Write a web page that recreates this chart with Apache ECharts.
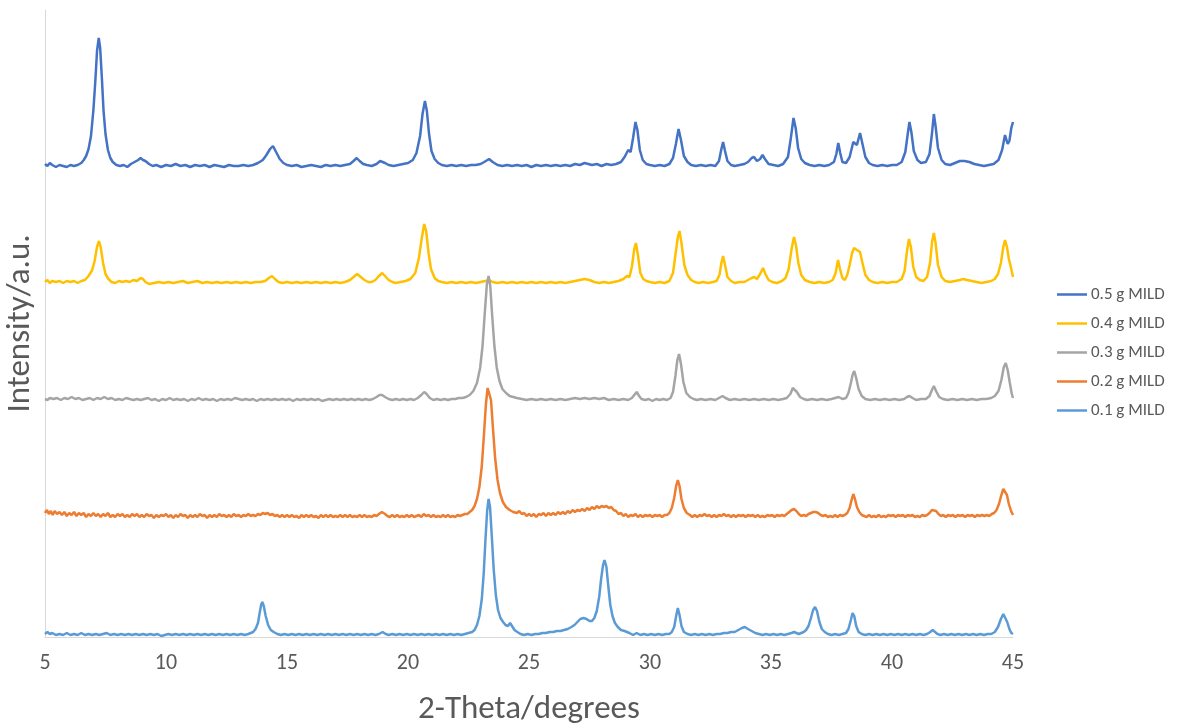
<!DOCTYPE html>
<html>
<head>
<meta charset="utf-8">
<script src="https://cdn.jsdelivr.net/npm/echarts@6/dist/echarts.min.js"></script>
<style>
  html, body { margin: 0; padding: 0; background: #fff; }
  #chart { width: 1194px; height: 725px; }
</style>
</head>
<body>
<div id="chart"></div>
<script>
// XRD patterns, [2-theta (deg), intensity above the pattern's own baseline]
const sampleNames = ['0.5 g MILD', '0.4 g MILD', '0.3 g MILD', '0.2 g MILD', '0.1 g MILD'];

// vertical stacking offset added to each pattern
const stackOffsets = [471, 354, 237, 121, 2];

const mild05 = [[5.0,2],[5.1,0],[5.2,3],[5.3,1],[5.45,-1],[5.6,1],[5.75,0],[5.9,-1],[6.05,1],[6.2,0],[6.35,1],[6.5,3],
[6.6,6],[6.7,10],[6.8,17],[6.9,30],[7.0,56],[7.08,85],[7.15,115],[7.22,128],[7.28,118],[7.35,88],[7.42,55],[7.5,32],[7.6,16],[7.7,8],[7.8,4],[7.95,1],
[8.1,0],[8.25,1],[8.4,-1],[8.55,2],[8.7,4],[8.85,6],[8.95,8],[9.05,6],[9.15,5],[9.3,2],[9.45,0],[9.6,1],[9.8,-1],[10.0,1],[10.2,0],[10.4,2],[10.6,0],[10.8,1],[11.0,-1],[11.2,1],[11.4,0],[11.6,1],[11.8,-1],[12.0,1],[12.2,0],[12.4,-1],[12.6,1],[12.8,0],[13.0,0],[13.2,1],[13.4,0],[13.6,1],[13.8,3],[14.0,6],[14.15,11],[14.3,17],[14.42,20],[14.55,14],[14.7,7],[14.85,3],[15.0,1],[15.2,0],[15.4,1],[15.6,-1],[15.8,0],[16.0,1],[16.2,0],[16.4,-1],[16.6,1],[16.8,0],[17.0,1],[17.2,0],[17.4,1],[17.6,2],[17.75,5],[17.88,8],[18.0,5],[18.15,2],[18.3,1],[18.5,0],[18.7,2],[18.85,5],[18.93,6],[19.05,3],[19.2,1],[19.4,0],[19.6,1],[19.8,2],[20.0,3],[20.2,6],[20.35,13],[20.5,30],[20.6,52],[20.7,65],[20.78,55],[20.87,32],[20.97,15],[21.1,7],[21.25,3],[21.4,1],[21.6,0],[21.8,1],[22.0,0],[22.2,1],[22.4,0],[22.6,1],[22.8,1],[23.0,2],[23.15,4],[23.35,7],[23.5,4],[23.7,1],[23.9,0],[24.1,1],[24.3,0],[24.5,1],[24.7,0],[24.9,1],[25.1,-1],[25.3,1],[25.5,0],[25.7,1],[25.9,0],[26.1,1],[26.3,0],[26.5,1],[26.7,0],[26.9,2],[27.1,1],[27.3,3],[27.45,2],[27.6,1],[27.8,2],[28.0,0],[28.2,2],[28.4,1],[28.6,2],[28.8,4],[28.95,9],[29.1,16],[29.2,14],[29.3,28],[29.4,44],[29.48,36],[29.58,16],[29.7,6],[29.85,2],[30.0,1],[30.2,0],[30.4,1],[30.6,0],[30.8,2],[30.95,8],[31.07,22],[31.18,37],[31.28,26],[31.4,10],[31.55,4],[31.7,1],[31.9,0],[32.1,1],[32.3,0],[32.5,1],[32.7,0],[32.85,5],[32.95,17],[33.02,24],[33.1,15],[33.2,5],[33.35,1],[33.5,0],[33.7,1],[33.9,2],[34.05,4],[34.2,8],[34.3,9],[34.42,5],[34.55,7],[34.65,11],[34.75,7],[34.9,2],[35.1,1],[35.3,0],[35.5,2],[35.7,9],[35.82,28],[35.93,48],[36.02,38],[36.12,18],[36.25,7],[36.4,3],[36.6,1],[36.8,0],[37.0,1],[37.2,0],[37.4,1],[37.6,4],[37.7,12],[37.78,23],[37.86,13],[37.95,4],[38.1,3],[38.25,9],[38.4,24],[38.47,22],[38.55,21],[38.68,33],[38.78,22],[38.9,9],[39.05,3],[39.2,1],[39.4,0],[39.6,1],[39.8,0],[40.0,1],[40.2,1],[40.4,4],[40.55,14],[40.65,32],[40.72,44],[40.8,34],[40.9,15],[41.05,6],[41.2,3],[41.4,4],[41.55,12],[41.65,32],[41.73,52],[41.8,40],[41.9,18],[42.05,6],[42.2,2],[42.4,1],[42.6,3],[42.8,5],[43.0,5],[43.2,4],[43.4,2],[43.6,1],[43.8,0],[44.0,1],[44.2,2],[44.4,6],[44.55,16],[44.67,31],[44.78,22],[44.85,25],[44.93,38],[45.0,44]];

const mild04 = [[5.0,1],[5.1,3],[5.2,0],[5.3,2],[5.45,1],[5.6,2],[5.75,0],[5.9,2],[6.05,1],[6.2,2],[6.35,0],[6.5,2],[6.65,3],[6.8,7],[6.95,13],[7.05,22],[7.15,36],[7.23,42],[7.3,36],[7.4,20],[7.5,9],[7.62,4],[7.75,1],[7.9,0],[8.05,2],[8.2,1],[8.35,2],[8.5,1],[8.65,3],[8.8,2],[8.95,5],[9.05,4],[9.15,1],[9.3,-1],[9.5,0],[9.7,1],[9.9,0],[10.1,1],[10.3,0],[10.5,1],[10.7,2],[10.9,0],[11.1,1],[11.3,2],[11.5,0],[11.7,1],[11.9,0],[12.1,1],[12.3,0],[12.5,1],[12.7,0],[12.9,1],[13.1,0],[13.3,1],[13.5,0],[13.7,1],[13.9,1],[14.1,2],[14.25,5],[14.38,7],[14.5,4],[14.65,1],[14.8,0],[15.0,1],[15.2,0],[15.4,1],[15.6,0],[15.8,1],[16.0,0],[16.2,1],[16.4,0],[16.6,1],[16.8,0],[17.0,1],[17.2,0],[17.4,1],[17.6,3],[17.75,6],[17.9,9],[18.05,6],[18.2,3],[18.35,1],[18.5,1],[18.65,3],[18.8,7],[18.93,10],[19.05,7],[19.2,3],[19.35,1],[19.5,0],[19.7,1],[19.9,2],[20.1,4],[20.3,10],[20.45,25],[20.57,45],[20.67,59],[20.75,52],[20.85,30],[20.95,14],[21.1,5],[21.25,2],[21.4,1],[21.6,0],[21.8,1],[22.0,0],[22.2,1],[22.4,0],[22.6,1],[22.8,0],[23.0,1],[23.2,2],[23.35,3],[23.5,1],[23.7,0],[23.9,1],[24.1,0],[24.3,1],[24.5,0],[24.7,1],[24.9,0],[25.1,1],[25.3,0],[25.5,1],[25.7,0],[25.9,1],[26.1,0],[26.3,1],[26.5,0],[26.7,1],[26.9,2],[27.1,3],[27.3,4],[27.5,3],[27.7,1],[27.9,0],[28.1,1],[28.3,0],[28.5,1],[28.7,2],[28.9,4],[29.05,7],[29.15,6],[29.25,16],[29.35,34],[29.42,40],[29.5,28],[29.6,10],[29.72,4],[29.85,2],[30.0,1],[30.2,0],[30.4,1],[30.6,0],[30.8,2],[30.95,10],[31.05,28],[31.15,46],[31.22,52],[31.3,40],[31.42,18],[31.55,8],[31.7,3],[31.85,1],[32.0,0],[32.2,1],[32.4,0],[32.6,1],[32.75,2],[32.87,8],[32.95,20],[33.02,27],[33.1,18],[33.2,6],[33.35,2],[33.5,0],[33.7,1],[33.9,1],[34.05,3],[34.2,5],[34.3,6],[34.42,4],[34.55,9],[34.67,15],[34.77,9],[34.9,3],[35.05,1],[35.25,0],[35.45,2],[35.6,5],[35.73,14],[35.85,34],[35.95,46],[36.03,38],[36.13,20],[36.25,8],[36.4,3],[36.6,1],[36.8,0],[37.0,1],[37.2,0],[37.4,1],[37.55,3],[37.67,10],[37.77,23],[37.85,14],[37.95,5],[38.05,3],[38.15,8],[38.25,18],[38.35,30],[38.43,35],[38.55,33],[38.68,31],[38.78,20],[38.9,8],[39.05,3],[39.2,1],[39.4,0],[39.6,1],[39.8,0],[40.0,1],[40.2,1],[40.4,4],[40.52,12],[40.62,32],[40.7,44],[40.78,36],[40.88,16],[41.0,6],[41.15,3],[41.3,2],[41.45,6],[41.57,20],[41.66,42],[41.73,50],[41.8,40],[41.9,18],[42.05,6],[42.2,2],[42.4,1],[42.6,2],[42.8,3],[42.95,4],[43.1,3],[43.3,2],[43.5,1],[43.7,0],[43.9,1],[44.1,2],[44.25,4],[44.38,9],[44.5,20],[44.6,36],[44.67,43],[44.75,36],[44.83,24],[44.92,15],[45.0,6]];

const mild03 = [[5.0,1],[5.1,0],[5.2,2],[5.35,1],[5.5,2],[5.65,0],[5.8,2],[5.95,1],[6.1,3],[6.25,1],[6.4,2],[6.55,0],[6.7,1],[6.85,2],[7.0,0],[7.15,2],[7.3,1],[7.45,3],[7.6,1],[7.75,2],[7.9,0],[8.05,1],[8.2,0],[8.35,2],[8.5,1],[8.65,0],[8.8,1],[8.95,0],[9.1,1],[9.25,2],[9.4,0],[9.55,1],[9.7,-1],[9.85,1],[10.0,0],[10.15,2],[10.3,0],[10.45,1],[10.6,0],[10.75,1],[10.9,-1],[11.05,1],[11.2,0],[11.35,2],[11.5,0],[11.65,1],[11.8,0],[11.95,1],[12.1,-1],[12.25,1],[12.4,0],[12.55,1],[12.7,0],[12.85,2],[13.0,1],[13.15,0],[13.3,1],[13.45,0],[13.6,1],[13.75,-1],[13.9,1],[14.05,0],[14.2,1],[14.35,0],[14.5,1],[14.65,0],[14.8,1],[14.95,0],[15.1,1],[15.25,-1],[15.4,1],[15.55,0],[15.7,1],[15.85,0],[16.0,1],[16.15,0],[16.3,1],[16.45,-1],[16.6,0],[16.75,1],[16.9,0],[17.05,1],[17.2,0],[17.35,1],[17.5,0],[17.65,1],[17.8,0],[17.95,1],[18.1,0],[18.25,1],[18.4,0],[18.55,1],[18.7,3],[18.82,5],[18.93,5],[19.05,3],[19.2,1],[19.35,0],[19.5,1],[19.65,0],[19.8,1],[19.95,0],[20.1,1],[20.25,0],[20.4,2],[20.55,5],[20.67,8],[20.77,6],[20.9,2],[21.05,0],[21.2,1],[21.35,0],[21.5,1],[21.65,0],[21.8,1],[21.95,1],[22.1,2],[22.25,2],[22.4,3],[22.55,5],[22.7,9],[22.85,17],[22.98,32],[23.08,54],[23.17,86],[23.26,116],[23.33,124],[23.4,114],[23.48,84],[23.57,54],[23.67,32],[23.78,19],[23.9,11],[24.05,7],[24.2,4],[24.35,3],[24.5,2],[24.7,1],[24.9,0],[25.1,1],[25.3,0],[25.5,1],[25.7,0],[25.9,1],[26.1,0],[26.3,1],[26.5,0],[26.7,1],[26.9,2],[27.1,1],[27.3,2],[27.5,1],[27.7,2],[27.9,1],[28.1,2],[28.3,0],[28.5,1],[28.7,0],[28.9,1],[29.1,0],[29.25,2],[29.35,5],[29.45,8],[29.55,4],[29.65,1],[29.8,0],[29.95,1],[30.1,-1],[30.25,1],[30.4,0],[30.55,1],[30.7,0],[30.85,2],[30.95,8],[31.05,24],[31.13,40],[31.2,46],[31.28,36],[31.38,18],[31.5,7],[31.65,3],[31.8,1],[31.95,0],[32.1,1],[32.3,0],[32.5,1],[32.7,0],[32.85,2],[33.0,4],[33.12,2],[33.3,0],[33.5,1],[33.7,0],[33.9,1],[34.1,0],[34.3,1],[34.5,0],[34.7,1],[34.9,0],[35.1,1],[35.3,0],[35.5,1],[35.65,2],[35.8,6],[35.9,12],[35.97,13],[36.07,8],[36.2,3],[36.35,1],[36.5,0],[36.7,1],[36.9,0],[37.1,1],[37.3,0],[37.5,1],[37.65,2],[37.8,3],[37.95,1],[38.1,2],[38.2,7],[38.3,17],[38.38,26],[38.44,29],[38.52,22],[38.62,11],[38.75,4],[38.9,1],[39.1,0],[39.3,1],[39.5,0],[39.7,1],[39.9,0],[40.1,1],[40.3,0],[40.5,1],[40.62,3],[40.72,4],[40.85,2],[41.0,0],[41.2,1],[41.4,1],[41.55,4],[41.65,10],[41.73,14],[41.82,9],[41.95,3],[42.1,1],[42.3,0],[42.5,1],[42.7,0],[42.9,1],[43.1,0],[43.3,1],[43.5,0],[43.7,1],[43.9,1],[44.1,2],[44.25,4],[44.4,9],[44.52,20],[44.62,33],[44.7,37],[44.78,30],[44.87,17],[44.95,6],[45.0,2]];

const mild02 = [[5.0,3],[5.08,6],[5.16,2],[5.24,5],[5.32,1],[5.4,5],[5.5,2],[5.6,4],[5.7,1],[5.8,4],[5.9,0],[6.0,3],[6.1,1],[6.2,4],[6.3,0],[6.4,3],[6.5,1],[6.6,3],[6.7,-1],[6.8,2],[6.9,0],[7.0,3],[7.1,0],[7.2,2],[7.3,-1],[7.4,2],[7.5,0],[7.6,3],[7.7,-1],[7.8,1],[7.9,-1],[8.0,2],[8.1,0],[8.2,2],[8.3,-1],[8.4,1],[8.5,-1],[8.6,2],[8.7,0],[8.8,2],[8.9,-1],[9.0,1],[9.1,-1],[9.2,2],[9.3,0],[9.4,1],[9.5,-2],[9.6,1],[9.7,-1],[9.8,1],[9.9,0],[10.0,2],[10.1,-1],[10.2,1],[10.3,-2],[10.4,1],[10.5,-1],[10.6,2],[10.7,0],[10.8,1],[10.9,-2],[11.0,1],[11.1,-1],[11.2,1],[11.3,-1],[11.4,2],[11.5,0],[11.6,1],[11.7,-2],[11.8,1],[11.9,-1],[12.0,1],[12.1,-1],[12.2,2],[12.3,0],[12.4,1],[12.5,-1],[12.6,1],[12.7,-1],[12.8,2],[12.9,0],[13.0,1],[13.1,-1],[13.2,1],[13.3,0],[13.4,2],[13.5,0],[13.6,1],[13.7,0],[13.8,2],[13.9,1],[14.0,3],[14.1,2],[14.2,3],[14.3,1],[14.4,2],[14.5,0],[14.6,1],[14.7,-1],[14.8,1],[14.9,-1],[15.0,1],[15.1,-1],[15.2,1],[15.3,-1],[15.4,0],[15.5,-2],[15.6,1],[15.7,-1],[15.8,1],[15.9,-1],[16.0,1],[16.1,-1],[16.2,0],[16.3,-2],[16.4,1],[16.5,-1],[16.6,1],[16.7,-1],[16.8,1],[16.9,-1],[17.0,0],[17.1,-1],[17.2,1],[17.3,-1],[17.4,1],[17.5,-1],[17.6,1],[17.7,-1],[17.8,0],[17.9,-1],[18.0,1],[18.1,-1],[18.2,1],[18.3,-1],[18.4,0],[18.5,-1],[18.6,1],[18.7,0],[18.8,2],[18.92,4],[19.05,2],[19.15,0],[19.25,-1],[19.35,1],[19.45,-1],[19.55,1],[19.65,-1],[19.75,0],[19.85,-1],[19.95,1],[20.05,-1],[20.15,1],[20.25,-1],[20.35,0],[20.45,1],[20.55,-1],[20.65,2],[20.75,0],[20.85,1],[20.95,-1],[21.05,1],[21.15,-1],[21.25,0],[21.35,-1],[21.45,1],[21.55,-1],[21.65,1],[21.75,-1],[21.85,0],[21.95,-1],[22.05,1],[22.15,0],[22.25,1],[22.35,2],[22.45,2],[22.55,4],[22.65,6],[22.75,10],[22.85,17],[22.95,29],[23.05,50],[23.14,82],[23.22,112],[23.29,128],[23.36,130],[23.43,116],[23.51,88],[23.6,58],[23.7,36],[23.8,23],[23.92,14],[24.05,9],[24.2,6],[24.35,4],[24.5,3],[24.6,5],[24.7,2],[24.8,3],[24.9,0],[25.0,2],[25.1,0],[25.2,2],[25.3,-1],[25.4,2],[25.5,1],[25.6,3],[25.7,0],[25.8,3],[25.9,1],[26.0,3],[26.1,1],[26.2,4],[26.3,2],[26.4,4],[26.5,2],[26.6,5],[26.7,3],[26.8,6],[26.9,4],[27.0,6],[27.1,5],[27.2,7],[27.3,5],[27.4,8],[27.5,6],[27.6,9],[27.7,7],[27.8,10],[27.9,8],[28.0,10],[28.1,9],[28.2,10],[28.3,8],[28.4,9],[28.5,6],[28.6,5],[28.7,2],[28.8,3],[28.9,0],[29.0,2],[29.1,-1],[29.2,1],[29.3,0],[29.4,2],[29.5,-1],[29.6,1],[29.7,-1],[29.8,1],[29.9,0],[30.0,1],[30.1,-1],[30.2,1],[30.3,0],[30.4,1],[30.5,-1],[30.6,1],[30.7,1],[30.8,3],[30.9,8],[31.0,18],[31.08,30],[31.15,36],[31.22,30],[31.3,17],[31.4,8],[31.52,3],[31.65,1],[31.75,-1],[31.85,1],[31.95,-1],[32.05,1],[32.15,0],[32.25,2],[32.35,0],[32.45,1],[32.55,-1],[32.65,1],[32.75,-1],[32.85,1],[32.95,0],[33.05,2],[33.15,0],[33.25,1],[33.35,-1],[33.45,1],[33.55,-1],[33.65,1],[33.75,0],[33.85,1],[33.95,-1],[34.05,1],[34.15,0],[34.25,1],[34.35,-1],[34.45,1],[34.55,-1],[34.65,0],[34.75,-1],[34.85,1],[34.95,0],[35.05,1],[35.15,-1],[35.25,1],[35.35,0],[35.45,1],[35.55,0],[35.65,2],[35.75,4],[35.85,6],[35.95,7],[36.05,5],[36.15,2],[36.25,0],[36.35,1],[36.45,0],[36.55,2],[36.65,3],[36.75,4],[36.85,4],[36.95,3],[37.05,1],[37.15,0],[37.25,1],[37.35,-1],[37.45,0],[37.55,-1],[37.65,1],[37.75,-1],[37.85,1],[37.95,0],[38.05,1],[38.15,3],[38.25,8],[38.33,16],[38.4,22],[38.47,17],[38.55,9],[38.65,4],[38.75,1],[38.85,0],[38.95,-1],[39.05,1],[39.15,-1],[39.25,0],[39.35,-1],[39.45,1],[39.55,-1],[39.65,0],[39.75,-1],[39.85,1],[39.95,0],[40.05,1],[40.15,-1],[40.25,1],[40.35,0],[40.45,1],[40.55,-1],[40.65,1],[40.75,0],[40.85,1],[40.95,-1],[41.05,0],[41.15,-1],[41.25,1],[41.35,0],[41.45,1],[41.55,3],[41.65,6],[41.73,8],[41.82,5],[41.92,2],[42.02,0],[42.12,1],[42.22,-1],[42.32,1],[42.42,0],[42.52,1],[42.62,-1],[42.72,1],[42.82,0],[42.92,1],[43.02,-1],[43.12,1],[43.22,0],[43.32,1],[43.42,-1],[43.52,1],[43.62,0],[43.72,1],[43.82,0],[43.92,1],[44.02,0],[44.12,2],[44.22,3],[44.32,6],[44.42,12],[44.52,21],[44.6,27],[44.67,28],[44.75,21],[44.83,12],[44.92,5],[45.0,1]];

const mild01 = [[5.0,1],[5.1,3],[5.2,1],[5.3,2],[5.45,0],[5.6,1],[5.75,0],[5.9,2],[6.05,0],[6.2,1],[6.35,0],[6.5,2],[6.65,0],[6.8,1],[6.95,0],[7.1,1],[7.25,0],[7.4,1],[7.55,2],[7.7,0],[7.85,1],[8.0,0],[8.15,1],[8.3,0],[8.45,1],[8.6,0],[8.75,1],[8.9,0],[9.05,1],[9.2,0],[9.35,1],[9.5,0],[9.65,1],[9.8,-1],[9.95,0],[10.1,1],[10.25,0],[10.4,1],[10.55,0],[10.7,1],[10.85,0],[11.0,1],[11.15,0],[11.3,1],[11.45,0],[11.6,1],[11.75,0],[11.9,1],[12.05,0],[12.2,1],[12.35,0],[12.5,1],[12.65,0],[12.8,1],[12.95,0],[13.1,1],[13.25,0],[13.4,1],[13.5,2],[13.6,3],[13.7,6],[13.8,12],[13.87,22],[13.93,30],[13.98,33],[14.04,29],[14.12,19],[14.22,10],[14.33,5],[14.45,3],[14.6,1],[14.75,0],[14.9,1],[15.05,0],[15.2,1],[15.35,0],[15.5,1],[15.65,0],[15.8,1],[15.95,0],[16.1,1],[16.25,0],[16.4,1],[16.55,0],[16.7,1],[16.85,0],[17.0,1],[17.15,0],[17.3,1],[17.45,0],[17.6,1],[17.75,0],[17.9,1],[18.05,0],[18.2,1],[18.35,0],[18.5,1],[18.65,0],[18.8,1],[18.95,3],[19.08,1],[19.2,0],[19.35,1],[19.5,0],[19.65,1],[19.8,0],[19.95,1],[20.1,0],[20.25,1],[20.4,0],[20.55,1],[20.7,0],[20.85,1],[21.0,0],[21.15,1],[21.3,0],[21.45,1],[21.6,0],[21.75,1],[21.9,0],[22.05,1],[22.2,0],[22.35,1],[22.5,2],[22.65,3],[22.75,5],[22.85,10],[22.95,19],[23.05,36],[23.13,62],[23.2,95],[23.27,124],[23.33,136],[23.39,128],[23.46,100],[23.54,66],[23.63,40],[23.72,25],[23.82,17],[23.93,13],[24.03,10],[24.13,9],[24.22,12],[24.3,10],[24.4,5],[24.52,3],[24.65,1],[24.8,0],[24.95,1],[25.1,0],[25.25,1],[25.4,1],[25.55,2],[25.7,2],[25.85,3],[26.0,3],[26.15,4],[26.3,4],[26.45,5],[26.6,6],[26.75,8],[26.88,10],[27.0,13],[27.12,16],[27.25,17],[27.38,16],[27.5,14],[27.6,14],[27.7,17],[27.8,24],[27.9,38],[27.98,56],[28.06,70],[28.12,75],[28.2,68],[28.28,48],[28.36,30],[28.45,19],[28.55,12],[28.67,8],[28.8,5],[28.95,4],[29.05,3],[29.15,2],[29.3,0],[29.45,2],[29.6,0],[29.75,1],[29.9,0],[30.05,1],[30.2,0],[30.35,1],[30.5,0],[30.65,1],[30.8,1],[30.9,3],[31.0,8],[31.08,19],[31.15,27],[31.22,20],[31.3,9],[31.4,3],[31.55,1],[31.7,0],[31.85,1],[32.0,0],[32.15,1],[32.3,0],[32.45,1],[32.6,0],[32.75,1],[32.9,1],[33.05,2],[33.2,2],[33.35,3],[33.5,3],[33.65,5],[33.8,7],[33.92,8],[34.05,6],[34.2,4],[34.35,2],[34.5,1],[34.65,0],[34.8,1],[34.95,0],[35.1,1],[35.25,0],[35.4,1],[35.55,0],[35.7,1],[35.85,2],[35.95,3],[36.05,2],[36.15,1],[36.25,2],[36.35,3],[36.45,5],[36.55,9],[36.65,17],[36.74,25],[36.82,28],[36.9,24],[37.0,13],[37.1,6],[37.22,3],[37.35,1],[37.5,0],[37.65,1],[37.8,0],[37.95,1],[38.1,2],[38.2,6],[38.3,15],[38.37,22],[38.44,19],[38.52,9],[38.62,3],[38.75,1],[38.9,0],[39.05,1],[39.2,0],[39.35,1],[39.5,0],[39.65,1],[39.8,0],[39.95,1],[40.1,0],[40.25,1],[40.4,0],[40.55,1],[40.7,0],[40.85,1],[41.0,0],[41.15,1],[41.3,0],[41.45,1],[41.58,3],[41.68,5],[41.76,4],[41.88,1],[42.0,0],[42.15,1],[42.3,0],[42.45,1],[42.6,0],[42.75,1],[42.9,0],[43.05,1],[43.2,0],[43.35,1],[43.5,0],[43.65,1],[43.8,0],[43.95,1],[44.1,1],[44.25,3],[44.38,8],[44.5,16],[44.6,21],[44.67,20],[44.76,13],[44.85,6],[44.93,2],[45.0,1]];

const patterns = [mild05, mild04, mild03, mild02, mild01];
const lineColors = ['#4472C4', '#FFC000', '#A5A5A5', '#ED7D31', '#5B9BD5'];

const FONT = 'Carlito, Lato, "Open Sans", sans-serif';
const TEXT = '#595959';

const chart = echarts.init(document.getElementById('chart'), null, { renderer: 'canvas' });

chart.setOption({
  animation: false,
  backgroundColor: '#ffffff',
  textStyle: { fontFamily: FONT },
  grid: { left: 45, right: 181, top: 10, bottom: 88, containLabel: false, outerBoundsMode: 'none' },
  legend: {
    orient: 'vertical',
    left: 1052,
    top: 281,
    icon: 'rect',
    itemWidth: 30,
    itemHeight: 2.5,
    itemGap: 12,
    textStyle: { fontFamily: FONT, fontSize: 17, color: TEXT, padding: [0, 0, 0, -1] },
    data: sampleNames
  },
  xAxis: {
    type: 'value',
    min: 5,
    max: 45,
    interval: 5,
    name: '2-Theta/degrees',
    nameLocation: 'middle',
    nameGap: 56,
    nameTextStyle: { fontFamily: FONT, fontSize: 33, color: TEXT },
    axisLine: { show: true, lineStyle: { color: '#D9D9D9', width: 1 } },
    axisTick: { show: false },
    splitLine: { show: false },
    axisLabel: { fontFamily: FONT, fontSize: 22, color: TEXT, margin: 15 }
  },
  yAxis: {
    type: 'value',
    min: 0,
    max: 627,
    name: 'Intensity/a.u.',
    nameLocation: 'middle',
    nameGap: 8,
    nameTextStyle: { fontFamily: FONT, fontSize: 33, color: TEXT },
    axisLine: { show: true, lineStyle: { color: '#D9D9D9', width: 1 } },
    axisTick: { show: false },
    axisLabel: { show: false },
    splitLine: { show: false }
  },
  series: patterns.map((pts, i) => ({
    name: sampleNames[i],
    type: 'line',
    symbol: 'none',
    smooth: false,
    lineStyle: { color: lineColors[i], width: 2.5 },
    itemStyle: { color: lineColors[i] },
    data: pts.map(p => [p[0], p[1] + stackOffsets[i]])
  }))
});
</script>
</body>
</html>
